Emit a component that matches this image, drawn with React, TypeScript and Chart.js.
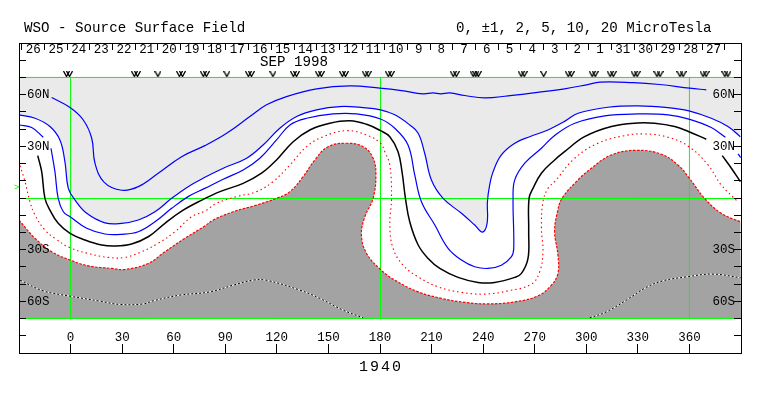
import React, { useEffect, useRef } from "react";
import { Chart, registerables } from "chart.js";

Chart.register(...registerables);

type P = [number, number] | null;

const xTickLons = [0, 30, 60, 90, 120, 150, 180, 210, 240, 270, 300, 330, 360];
const latTicks = [-80, -70, -60, -50, -40, -30, -20, -10, 0, 10, 20, 30, 40, 50, 60, 70, 80];
const latLabels: Record<string, string> = { "60": "60N", "30": "30N", "-30": "30S", "-60": "60S" };
const dayLabels = ["26","25","24","23","22","21","20","19","18","17","16","15","14","13","12","11","10","9","8","7","6","5","4","3","2","1","31","30","29","28","27"];
const dayCenterLons = [-21.7,-8.5,4.7,17.9,31.1,44.3,57.4,70.6,83.8,97,110.2,123.4,136.6,149.8,163,176.1,189.3,202.5,215.7,228.9,242.1,255.3,268.5,281.7,294.8,308,321.2,334.4,347.6,360.8,374];
const obsLons = [-2.4,-0.6,37.1,38.9,50.8,63.3,65.1,77.2,79,90.9,103.4,105.2,117.7,129.6,131.4,144.1,145.9,158.1,159.9,171.4,173.2,184.8,186.6,222.6,224.4,234.2,235.7,237.2,262.1,263.9,275.2,289.5,291.3,303.4,305.2,313.9,315.7,327.8,329.6,341.1,342.9,354.5,356.3,367.9,369.7,380.6,382.4];
const greenLons = [0, 180.3, 360];
const greenLats = [70, -0.3, -70];

const lineA: P[] = [[-11,58.3],[-0.3,52.5],[7.4,45.3],[12.3,34.7],[14.2,20.2],[19.6,9.1],[29.7,4.5],[39.4,6.6],[51,14.4],[64.6,24],[78.1,30.4],[90.8,37.6],[104.3,47.3],[114,54.1],[125.6,58.9],[143.1,63.4],[162.5,65.1],[179.9,63.8],[192.5,62.4],[205,60.5],[210.9,61],[215.3,60.5],[220.6,61],[229.3,59.5],[241,58.1],[254.5,59.3],[268.1,60.9],[287.4,63.4],[300.1,65.7],[308,67.3],[327.2,67],[342.7,65.9],[360.1,63.8],[369.8,62.8]];
const lineB: P[] = [[-30,48.3],[-20.7,46.3],[-12,41.5],[-6.2,33.7],[-3.3,21.1],[-1.3,5.6],[2.6,-1.2],[9.4,-8.9],[20,-14.4],[29.7,-14.7],[39.4,-12.8],[49.1,-8],[58.8,-0.2],[68.4,6.6],[78.1,12],[88.8,17.3],[102.4,23.1],[112,30.8],[121.7,40.5],[131.5,47.3],[143.1,51.2],[156.6,53.1],[170.2,52.5],[180.3,51.2],[188.6,48.3],[197.3,42.4],[202.2,37.6],[206,26],[209.9,10.5],[216.7,-0.2],[227.4,-8.9],[235.1,-15.7],[239.6,-19.8],[242.3,-14.7],[242.5,-2.2],[243.8,7.6],[245.8,15.3],[250.6,25],[258.4,31.8],[267.1,35.6],[277.7,39.5],[287.4,44.5],[295.2,49.2],[312.6,52.7],[330,53.5],[347.5,52.5],[359.7,50.6],[372.7,46.3],[382.4,41.5],[389.6,35.6]];
const lineC: P[] = [[-30,42.4],[-22.6,40.9],[-15.9,35.3],null,[-11.4,28.9],[-9.1,15.3],[-7.2,-0.2],[-4.2,-8],[-0.3,-10.9],[9.4,-17.6],[20,-20.9],[29.7,-21.1],[39.4,-19.6],[49.1,-13.8],[58.8,-6],[68.4,0.8],[78.1,5.6],[88.8,10.9],[100.4,16.3],[110.1,23.1],[119.8,33.7],[127.6,42.4],[137.3,46.3],[152.7,48.8],[166.3,48.8],[180.3,45.9],[188.6,40.5],[196.3,30.8],[200.2,13.4],[204.1,-2.2],[211.9,-15.7],[219.6,-29.2],[227.4,-36],[235.1,-39.9],[242.8,-40.9],[250.6,-39],[256.5,-34.1],[257.8,-29.2],[257.4,-0.2],[258.4,10.5],[264.2,20.2],[273.9,28.9],[281.6,36.3],[293.3,43.4],[310.7,47.7],[330,48.8],[347.5,48.3],[359.7,45.8],[372.7,40.9],[380.9,35.3],null,[388.3,25.6],[389.8,23.5]];
const lineZero: P[] = [[-19.1,24.6],[-16.8,15.3],[-14.9,-0.2],[-12,-7],[-7.2,-14.7],[-0.3,-20.5],[8.4,-24.4],[18.1,-27.3],[25.8,-27.9],[35.5,-26.7],[45.2,-22.5],[54.9,-14.7],[64.6,-7.6],[76.4,-1.2],[86.9,3.7],[100.4,8.5],[111.1,14.4],[119.8,22.1],[129.5,32.7],[139.2,39.5],[150.8,43.4],[162.5,44.8],[172.2,42.8],[180.3,39.1],[185.7,35.6],[190.5,26.9],[192.8,15.3],[194.8,-0.2],[197.3,-13.8],[202.2,-27.3],[208,-35.1],[214.8,-40.9],[225.4,-46.1],[237,-49],[246.7,-49],[258.4,-46.1],[262.3,-43.8],[266.1,-35.1],[266.5,-19.6],[266.7,-0.2],[269,5.6],[273.9,14.4],[281.6,22.1],[287.4,26.9],[299,35.6],[314.6,41.5],[330,43.6],[339.7,43.4],[351.4,41.5],[359.7,38.5],[369.8,34.1],null,[379.1,24.6],[384.4,17.3],[389.6,9.5]];
const lineR1: P[] = [[-29.4,18.8],[-26.5,9.5],[-23.6,-2.2],[-20.7,-9.9],[-14.9,-18.6],[-9.1,-23.4],[-0.3,-28.9],[10.3,-32.2],[21.9,-34.5],[31.6,-34.5],[41.3,-31.2],[51,-26.3],[60.7,-19.6],[70.4,-10.9],[78.1,-7.6],[84.9,-3.1],[96.6,0.8],[108.2,3.7],[117.8,9.5],[127.6,19.2],[137.3,29.8],[146.9,35.6],[160.5,39.1],[172.2,36.6],[180.3,31.8],[182.8,26.9],[185.7,19.2],[186.7,-0.2],[185.7,-15.7],[187.6,-29.2],[193.4,-39],[202.2,-45.8],[213.8,-51.6],[227.4,-54.8],[240.9,-55.8],[254.5,-53.9],[268.1,-50],[272.9,-42.8],[274.8,-31.2],[273.9,-17.6],[274.8,-2.2],[277.7,5.6],[281.6,9.5],[293.3,23.1],[306.8,31.8],[322.3,36.2],[333.9,37.2],[347.5,35.3],[359.7,29.8],[370.8,19.2],[378.5,7.6],[388.2,-2.2]];
const lineR2: P[] = [[-30,-12.8],[-20.7,-23.4],[-11,-31.2],[-0.3,-36],[10.3,-39.4],[23.9,-40.9],[31.6,-41.5],[45.2,-38],[54.9,-31.2],[66.5,-23.4],[78.1,-16.3],[83,-12.8],[94.6,-8],[108.2,-4.1],[119.8,-0.2],[127.6,3.7],[135.3,12.4],[142.1,22.1],[149.8,29.8],[160.5,31.8],[170.2,29.8],[176,23.1],[177.6,13.4],[176,-0.2],[171.2,-10.9],[169.2,-21.5],[172.2,-32.2],[180.3,-41.5],[188.6,-47.7],[202.2,-54.5],[215.8,-58.3],[229.3,-60.6],[242.8,-61.5],[258.4,-60.3],[271.9,-56.8],[279.7,-50.6],[283.5,-43.8],[283.5,-33.1],[281.6,-19.6],[283.2,-8.1],[285.9,-0.2],[294.2,9.5],[303,17.3],[314.6,25],[329.1,27.7],[343.7,25.4],[353.3,19.2],[359.7,11.8],[368.8,-0.2],[378.5,-8.9],[389.6,-13.8]];
const lineSouth: P[] = [[-29.4,-47.7],[-15.9,-53.9],[-0.3,-57],[17.1,-59.9],[28.7,-61.8],[42.3,-61.5],[48.1,-59.7],[63.6,-56.4],[81,-54.5],[94.6,-50.6],[106.2,-47.7],[114,-47.8],[133.4,-53.5],[145,-58.3],[158.5,-65.1],[170.2,-69.6],null,[302,-69.6],[311.7,-66.1],[323.3,-59.3],[334.9,-51.9],[344.6,-48.1],[358.2,-45.8],[373.7,-44.2],[389.8,-46.3]];

const FONT = "'Liberation Mono', monospace";
const toPts = (a: P[]) => a.map((p) => (p ? { x: p[0], y: p[1] } : { x: NaN, y: NaN }));

function curve(label: string, data: P[], color: string, width: number, dash: number[] = []) {
  return { label, data: toPts(data), borderColor: color, borderWidth: width, borderDash: dash, pointRadius: 0, tension: 0.4, fill: false };
}

const regionPlugin = {
  id: "regions",
  beforeDatasetsDraw(chart: any) {
    const { ctx, scales } = chart;
    const paint = (label: string, lat: number, color: string) => {
      const i = chart.data.datasets.findIndex((d: any) => d.label === label);
      const line = chart.getDatasetMeta(i).dataset;
      ctx.save();
      ctx.beginPath();
      line.path(ctx);
      ctx.lineTo(scales.x.getPixelForValue(390), scales.y.getPixelForValue(lat));
      ctx.lineTo(scales.x.getPixelForValue(-30), scales.y.getPixelForValue(lat));
      ctx.closePath();
      ctx.fillStyle = color;
      ctx.fill();
      ctx.restore();
    };
    paint("B", 70, "#eaeaea");
    paint("R2", -70, "#a3a3a3");
  },
};

const textPlugin = {
  id: "texts",
  afterDraw(chart: any) {
    const { ctx } = chart;
    ctx.save();
    ctx.fillStyle = "#000";
    ctx.textBaseline = "alphabetic";
    ctx.textAlign = "left";
    ctx.font = `14.2px ${FONT}`;
    ctx.fillText("WSO - Source Surface Field", 24, 32);
    ctx.fillText("0, ±1, 2, 5, 10, 20 MicroTesla", 456, 32);
    ctx.fillText("SEP 1998", 260, 66);
    ctx.font = `15px ${FONT}`;
    (ctx as any).letterSpacing = "2px";
    ctx.fillText("1940", 359, 371);
    (ctx as any).letterSpacing = "0px";
    ctx.fillStyle = "#00ff00";
    ctx.font = `9px ${FONT}`;
    ctx.fillText(">", 14, 190);
    ctx.restore();
  },
};

function axisFit(s: any) {
  if (s.isHorizontal()) s.height = 0;
  else s.width = 0;
}

export default function App() {
  const ref = useRef<HTMLCanvasElement>(null);
  useEffect(() => {
    const glyph = document.createElement("canvas");
    glyph.width = 7;
    glyph.height = 6;
    const g = glyph.getContext("2d")!;
    g.strokeStyle = "#000";
    g.lineWidth = 1.3;
    g.beginPath();
    g.moveTo(0.5, 0);
    g.lineTo(3.5, 5.5);
    g.lineTo(6.5, 0);
    g.stroke();

    const vertical: any[] = [];
    greenLons.forEach((lon) => vertical.push({ x: lon, y: -70 }, { x: lon, y: 70 }, { x: NaN, y: NaN }));
    const horizontal: any[] = [];
    greenLats.forEach((lat) => horizontal.push({ x: -30, y: lat }, { x: 390, y: lat }, { x: NaN, y: NaN }));

    const tickFont = { family: FONT, size: 12.5 };
    const axisBase = {
      type: "linear" as const,
      afterFit: axisFit,
      border: { display: true, color: "#000", width: 1, z: 1 },
    };

    const chart = new Chart(ref.current!, {
      type: "line",
      data: {
        datasets: [
          curve("South dots", lineSouth, "#000", 1, [2, 2]),
          curve("South", lineSouth, "#fff", 1),
          curve("Zero", lineZero, "#000", 1.5),
          curve("A", lineA, "#0000ff", 1.2),
          curve("B", lineB, "#0000ff", 1.2),
          curve("C", lineC, "#0000ff", 1.2),
          curve("R1", lineR1, "#ff0000", 1.1, [1.5, 3]),
          curve("R2", lineR2, "#ff0000", 1.2, [2.5, 1.5]),
          {
            label: "Observations",
            data: obsLons.map((x) => ({ x, y: 72 })),
            showLine: false,
            pointStyle: glyph,
            pointRadius: 3,
          },
          { label: "Green v", data: vertical, borderColor: "#00ff00", borderWidth: 1, pointRadius: 0 },
          { label: "Green h", data: horizontal, borderColor: "#00ff00", borderWidth: 1, pointRadius: 0 },
        ] as any,
      },
      options: {
        responsive: false,
        animation: false,
        events: [],
        layout: { padding: { left: 19, right: 22, top: 43, bottom: 43 } },
        plugins: { legend: { display: false }, tooltip: { enabled: false } },
        scales: {
          x: {
            ...axisBase,
            position: "bottom",
            min: -30,
            max: 390,
            afterBuildTicks: (s: any) => { s.ticks = xTickLons.map((value) => ({ value })); },
            grid: { drawOnChartArea: false, drawTicks: true, tickLength: -9, tickColor: "#000", z: 1 },
            ticks: { z: 1, mirror: true, padding: 8, autoSkip: false, maxRotation: 0, minRotation: 0, color: "#000", font: tickFont, callback: (v: any) => String(v) },
          },
          xTop: {
            ...axisBase,
            axis: "x",
            position: "top",
            min: -30,
            max: 390,
            afterBuildTicks: (s: any) => { s.ticks = dayCenterLons.map((value) => ({ value })); },
            grid: { drawOnChartArea: false, drawTicks: true, tickLength: -7, tickColor: "#000", offset: true, z: 1 },
            ticks: { z: 1, mirror: true, padding: -0.5, autoSkip: false, maxRotation: 0, minRotation: 0, color: "#000", font: tickFont, callback: (_v: any, i: number) => dayLabels[i] },
          },
          y: {
            ...axisBase,
            position: "left",
            min: -90,
            max: 90,
            afterBuildTicks: (s: any) => { s.ticks = latTicks.map((value) => ({ value })); },
            grid: { drawOnChartArea: false, drawTicks: true, tickLength: -7, tickColor: "#000", z: 1 },
            ticks: { z: 1, mirror: true, padding: 8, autoSkip: false, color: "#000", font: tickFont, callback: (v: any) => latLabels[String(v)] ?? "" },
          },
          yRight: {
            ...axisBase,
            axis: "y",
            position: "right",
            min: -90,
            max: 90,
            afterBuildTicks: (s: any) => { s.ticks = latTicks.map((value) => ({ value })); },
            grid: { drawOnChartArea: false, drawTicks: true, tickLength: -7, tickColor: "#000", z: 1 },
            ticks: { z: 1, mirror: true, padding: -6, autoSkip: false, color: "#000", font: tickFont, callback: (v: any) => latLabels[String(v)] ?? "" },
          },
        },
      } as any,
      plugins: [regionPlugin, textPlugin],
    });
    return () => chart.destroy();
  }, []);
  return (
    <canvas
      ref={ref}
      width={763}
      height={396}
      style={{ position: "absolute", left: 0, top: 0, display: "block" }}
    />
  );
}
